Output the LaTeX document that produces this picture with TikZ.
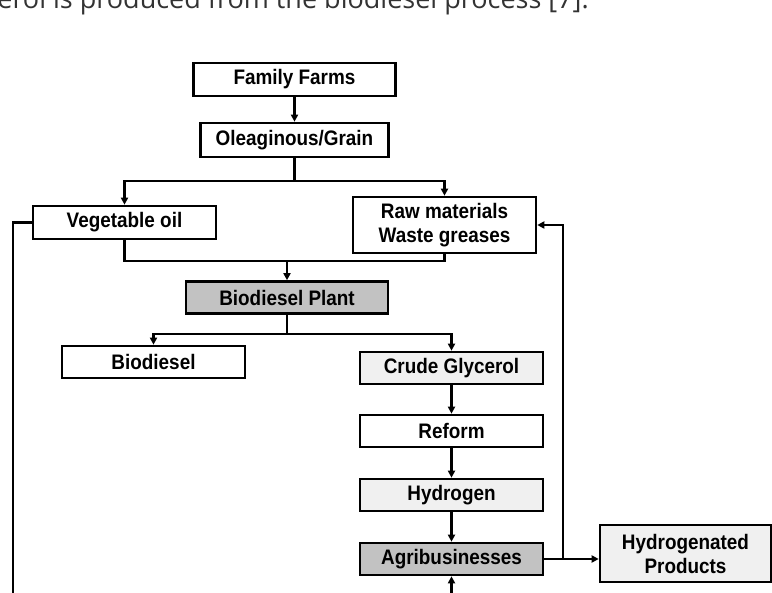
\documentclass[tikz,border=0pt]{standalone}
\usepackage{fontspec}
\setmainfont{Liberation Sans}
\newfontfamily\boxfont{Liberation Sans}[FakeStretch=0.9]
\newfontfamily\bodyfont{Open Sans}
\usetikzlibrary{positioning, arrows.meta}
\definecolor{darkfill}{gray}{0.76}
\definecolor{lightfill}{gray}{0.94}
\tikzset{node/.style = {rectangle, draw, line width=2.6pt, minimum width=183pt, minimum height=33pt, inner sep=0pt, align=center, font=\boxfont\bfseries\fontsize{21}{24}\selectfont}}
\tikzset{link/.style = {line width=2.1pt}}
\tikzset{arr/.style = {link, -{Triangle[length=7pt,width=7pt]}}}

\begin{document}
\begin{tikzpicture}[x=1pt, y=-1pt]
            \useasboundingbox (0,0) rectangle (772,593);
            \node [anchor=base east, inner sep=0pt, text=black!80, font=\bodyfont\fontsize{27}{30}\selectfont] (txt) at (589,9) {erol is produced from the biodiesel process [7].};

            \node [node, minimum width=202pt]                       (0)  at (294.5, 79.5) {Family Farms};
            \node [node, minimum width=188pt, minimum height=34pt]  (1)  at (294.5, 140)  {Oleaginous/Grain};
            \node [node]                                            (2)  at (124.5, 222.5) {Vegetable oil};
            \node [node, minimum height=56pt]                       (3)  at (444.5, 225)  {Raw materials\\Waste greases};
            \node [node, fill=darkfill, minimum width=202pt, minimum height=32pt] (4) at (287, 297.5) {Biodiesel Plant};
            \node [node, minimum height=32pt]                       (5)  at (153.5, 362)  {Biodiesel};
            \node [node, fill=lightfill, minimum height=32pt]       (6)  at (451.5, 368)  {Crude Glycerol};
            \node [node, minimum height=32pt]                       (7)  at (451.5, 431)  {Reform};
            \node [node, fill=lightfill, minimum height=32pt]       (8)  at (451.5, 495)  {Hydrogen};
            \node [node, fill=darkfill, minimum height=32pt]        (9)  at (451.5, 559)  {Agribusinesses};
            \node [node, fill=lightfill, minimum width=171pt, minimum height=57pt] (10) at (685.5, 553.5) {Hydrogenated\\Products};

            \coordinate (s1)  at (294.5, 181);
            \coordinate (m1)  at (287, 261);
            \coordinate (s2)  at (287, 334);
            \coordinate (tap) at (563, 559);
            \coordinate (c1)  at (13, 630);

            \draw [arr] (0) -- (1);
            \draw [link] (1) -- (s1);
            \draw [arr] (s1) -| (2);
            \draw [arr] (s1) -| (3);
            \draw [link] (2) |- (m1) -| (3);
            \draw [arr] (m1) -- (4);
            \draw [link] (4) -- (s2);
            \draw [arr] (s2) -| (5);
            \draw [arr] (s2) -| (6);
            \draw [arr] (6) -- (7);
            \draw [arr] (7) -- (8);
            \draw [arr] (8) -- (9);
            \draw [arr] (9) -- (9 -| 10.west);
            \draw [arr] (tap) |- (3);
            \draw [arr] (2) -| (c1) -| (9);
        \end{tikzpicture}
\end{document}
